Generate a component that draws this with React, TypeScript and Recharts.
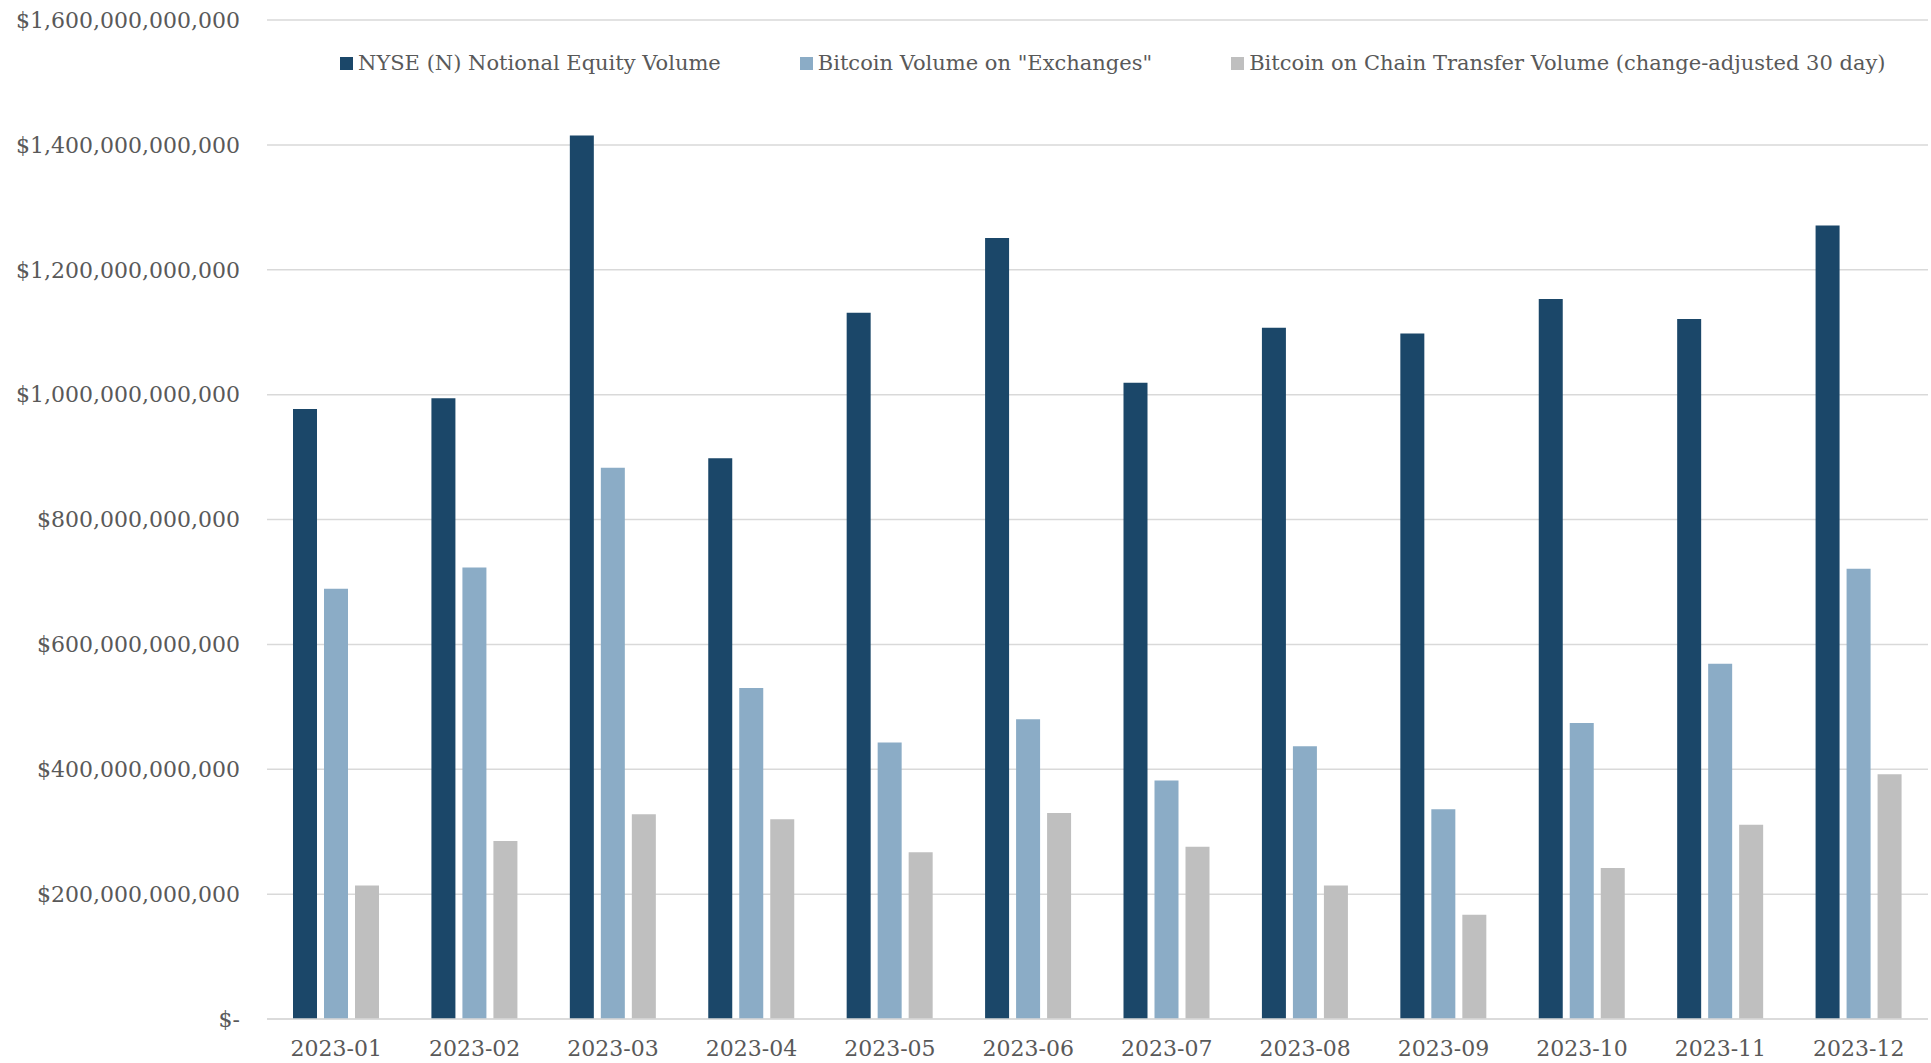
import { BarChart, Bar, XAxis, YAxis, CartesianGrid, Legend } from 'recharts';

// values in billions of USD
const months = [
  '2023-01', '2023-02', '2023-03', '2023-04', '2023-05', '2023-06',
  '2023-07', '2023-08', '2023-09', '2023-10', '2023-11', '2023-12',
];
const nyseVolume = [977, 994, 1415, 898, 1131, 1251, 1019, 1107, 1098, 1153, 1121, 1271];
const exchangeVolume = [689, 723, 883, 530, 443, 480, 382, 437, 336, 474, 569, 721];
const chainVolume = [214, 285, 328, 320, 267, 330, 276, 214, 167, 242, 311, 392];
const yTicks = [0, 200, 400, 600, 800, 1000, 1200, 1400, 1600];

const seriesNames = [
  'NYSE (N) Notional Equity Volume',
  'Bitcoin Volume on "Exchanges"',
  'Bitcoin on Chain Transfer Volume (change-adjusted 30 day)',
];
const colors = ['#1B4769', '#8BACC6', '#BFBFBF'];

const data = months.map((m, i) => ({
  month: m,
  nyse: nyseVolume[i],
  exchange: exchangeVolume[i],
  chain: chainVolume[i],
}));

const FONT = '"DejaVu Serif", "Liberation Serif", serif';
const W = 1931;
const H = 1063;

function fmtUsd(v: number) {
  if (v === 0) return '$-';
  return '$' + (v * 1e9).toLocaleString('en-US');
}

function LegendRow() {
  return (
    <div style={{
      display: 'flex', justifyContent: 'flex-start', alignItems: 'center', gap: 79,
      fontFamily: FONT, fontSize: 21, color: '#595959', height: 30, lineHeight: '30px',
      paddingLeft: 340,
    }}>
      {seriesNames.map((n, i) => (
        <div key={i} style={{ display: 'flex', alignItems: 'center', whiteSpace: 'nowrap' }}>
          <span style={{ width: 13, height: 13, background: colors[i], display: 'inline-block', marginRight: 5 }} />
          <span>{n}</span>
        </div>
      ))}
    </div>
  );
}

export default function App() {
  return (
    <div style={{ position: 'absolute', left: 0, top: 0, width: W, height: H, background: '#fff' }}>
      <BarChart width={W} height={H} data={data} barGap={7} margin={{ top: 20, right: 3, left: 0, bottom: 0 }}>
        <CartesianGrid vertical={false} stroke="#D9D9D9" strokeWidth={1.5} />
        <XAxis
          dataKey="month"
          tickLine={false}
          tickSize={0}
          tickMargin={21}
          axisLine={{ stroke: '#D9D9D9', strokeWidth: 1.5 }}
          tick={{ fontFamily: FONT, fontSize: 22, fill: '#595959' }}
          height={44}
        />
        <YAxis
          width={267}
          domain={[0, 1600]}
          ticks={yTicks}
          interval={0}
          tickFormatter={fmtUsd}
          tickLine={false}
          axisLine={false}
          tickSize={0}
          tickMargin={27}
          tick={{ fontFamily: FONT, fontSize: 22, fill: '#595959' }}
        />
        <Legend
          verticalAlign="middle"
          align="center"
          layout="horizontal"
          wrapperStyle={{ top: 48, left: 0, width: W }}
          content={() => <LegendRow />}
        />
        <Bar dataKey="nyse" name={seriesNames[0]} fill={colors[0]} barSize={24} isAnimationActive={false} />
        <Bar dataKey="exchange" name={seriesNames[1]} fill={colors[1]} barSize={24} isAnimationActive={false} />
        <Bar dataKey="chain" name={seriesNames[2]} fill={colors[2]} barSize={24} isAnimationActive={false} />
      </BarChart>
    </div>
  );
}
